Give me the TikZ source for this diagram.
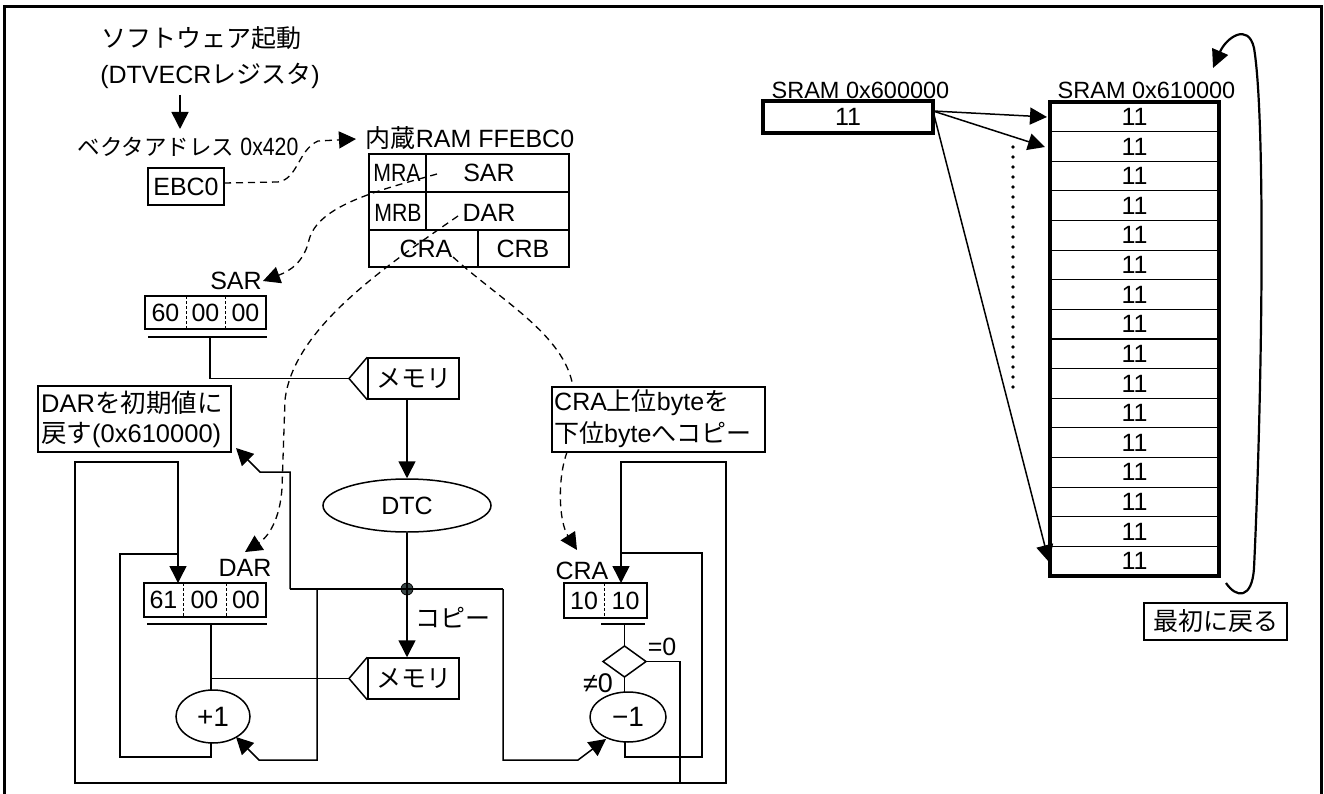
\documentclass[tikz,border=0pt]{standalone}
\usepackage{fontspec}
\setmainfont{Liberation Sans}
\newfontfamily\jp{Noto Sans CJK JP}
\newfontfamily\narrowf[FakeStretch=0.85]{Liberation Sans}
\usetikzlibrary{arrows.meta,shapes.geometric}
\definecolor{dotc}{HTML}{3A4848}
\tikzset{
  ln/.style={line width=1.5pt},
  arr/.style={ln,-{Triangle[length=17pt,width=17pt]}},
  dsh/.style={line width=1.3pt,dash pattern=on 7pt off 5pt},
  darr/.style={dsh,-{Triangle[length=17pt,width=17pt]}},
  t/.style={inner sep=0pt,font=\fontsize{25}{30}\selectfont},
  ts/.style={inner sep=0pt,font=\fontsize{23.5}{28}\selectfont},
  bx/.style={draw,ln,inner sep=0pt},
  cell/.style={dash pattern=on 3pt off 2pt,line width=1pt},
  thick box/.style={draw,line width=3.2pt,inner sep=0pt},
}
\begin{document}
\begin{tikzpicture}[x=1pt,y=-1pt]
\useasboundingbox (0,0) rectangle (1324,794);
% frame
\draw[line width=3pt] (4.5,800) -- (4.5,7) -- (1321.5,7) -- (1321.5,800);

% ---------- top-left ----------
\node[t] (s1) at (201,38) {\jp ソフトウェア起動};
\node[t] (s2) at (210,76) {(DTVECR{\jp レジスタ})};
\coordinate (a1) at (180,95);
\coordinate (a2) at (180,129);
\draw[arr] (a1) -- (a2);
\node[t,font=\fontsize{22.5}{27}\selectfont] (vec) at (188,147) {{\jp ベクタアドレス} {\fontsize{25}{30}\selectfont\narrowf 0x420}};
\node[bx,t,minimum width=76pt,minimum height=37pt] (ebc) at (186,186.5) {EBC0};

\node[t] (ramlbl) at (470,138) {{\jp 内蔵}RAM FFEBC0};
\node[draw,ln,minimum width=200pt,minimum height=113pt,inner sep=0pt] (ram) at (469,210.5) {};
\draw[ln] (ram.west |- 0,192) -- (ram.east |- 0,192);
\draw[ln] (ram.west |- 0,230) -- (ram.east |- 0,230);
\draw[ln] (426,154) -- (426,230);
\draw[ln] (478,230) -- (478,267);
\node[t] (mra) at (397,173) {\narrowf MRA};
\node[t] (sarc) at (489,173) {SAR};
\node[t] (mrb) at (398,213) {\narrowf MRB};
\node[t] (darc) at (489,213) {DAR};
\node[t] (crac) at (426,249) {CRA};
\node[t] (crbc) at (523,249) {CRB};

\coordinate (e1) at (224,183);
\coordinate (e2) at (356,139);
\draw[darr] (e1) -- (278,182) .. controls (298,179) and (298,150) .. (318,141) -- (e2);

% SAR register
\node[t] (sarlbl) at (236,281) {SAR};
\node[bx,minimum width=121pt,minimum height=33pt] (sarbox) at (205.5,312.5) {};
\draw[cell] (186,296) -- (186,329);
\draw[cell] (225,296) -- (225,329);
\node[t] (sar1) at (165.5,312.5) {60};
\node[t] (sar2) at (205.5,312.5) {00};
\node[t] (sar3) at (245.5,312.5) {00};
\draw[ln] (148,337) -- (267,337);
\coordinate (sarfrom) at (437,174);
\coordinate (sarto) at (263,281);
\draw[darr] (sarfrom) .. controls (380,190) and (318,205) .. (309,240) .. controls (304,262) and (290,271) .. (sarto);

% memory 1
\node[bx,t,minimum width=91pt,minimum height=41pt] (mem1) at (413.5,378.5) {\jp メモリ};
\coordinate (mem1tip) at (349,378.5);
\draw[ln] (mem1.north west) -- (mem1tip) -- (mem1.south west);
\draw[ln] (210,337) -- (210,378.5) -- (mem1tip);

% DTC
\node[draw,ln,ellipse,minimum width=168pt,minimum height=53pt,inner sep=0pt,t] (dtc) at (407,505.5) {DTC};
\draw[arr] (mem1.south -| dtc.north) -- (dtc.north);
\node[circle,fill=dotc,draw=black,line width=0.8pt,minimum size=12pt,inner sep=0pt] (dot) at (407,589) {};
\draw[ln] (dtc.south) -- (dot.center);
\draw[ln] (290,589) -- (503,589);

% memory 2
\node[bx,t,minimum width=91pt,minimum height=41pt] (mem2) at (413.5,678.5) {\jp メモリ};
\coordinate (mem2tip) at (349,678.5);
\draw[ln] (mem2.north west) -- (mem2tip) -- (mem2.south west);
\draw[arr] (dot.center) -- (mem2.north -| dot);
\node[t] (copy) at (453,618) {\jp コピー};

% DAR reset box
\node[bx,minimum width=193pt,minimum height=66pt] (darinit) at (134.5,419) {};
\node[t,font=\fontsize{25.5}{30}\selectfont,anchor=west] (di1) at (41,403) {DAR{\jp を初期値に}};
\node[t,font=\fontsize{25.5}{30}\selectfont,anchor=west] (di2) at (41,435) {{\jp 戻す}(0x610000)};
\draw[arr] (290,589) -- (290,472) -- (260,472) -- (236,448);

% DAR register
\node[t] (darlbl) at (245,568) {DAR};
\node[bx,minimum width=122pt,minimum height=34pt] (darbox) at (205,600) {};
\draw[cell] (183,583) -- (183,617);
\draw[cell] (226,583) -- (226,617);
\node[t] (dar1) at (163.5,600) {61};
\node[t] (dar2) at (204.5,600) {00};
\node[t] (dar3) at (246,600) {00};
\draw[ln] (147,624) -- (267,624);
\coordinate (darfrom) at (458,216);
\coordinate (darto) at (245,552);
\draw[darr] (darfrom) .. controls (380,270) and (293,330) .. (285,400) -- (282,488) .. controls (280,520) and (268,537) .. (darto);

% +1
\node[draw,ln,ellipse,minimum width=74pt,minimum height=53pt,inner sep=0pt,t,font=\fontsize{28}{32}\selectfont] (plus) at (213,716.5) {+1};
\draw[ln] (211,624) -- (211,690);
\draw[ln] (mem2tip) -- (211,678.5);
\draw[ln] (211,743) -- (211,757) -- (120,757) -- (120,554) -- (178,554);
\draw[arr] (317,589) -- (317,760) -- (259,760) -- (236,737);

% CRA copy box
\node[bx,fill=white,minimum width=213pt,minimum height=65pt] (crabox0) at (658.5,419.5) {};
\coordinate (crfrom) at (453,257);
\coordinate (crmid) at (573,387);
\draw[dsh] (crfrom) .. controls (500,300) and (565,335) .. (crmid);
\node[t,anchor=west] (cb1) at (554,403) {CRA{\jp 上位}byte{\jp を}};
\node[t,anchor=west] (cb2) at (554,435) {{\jp 下位}byte{\jp へコピー}};

% CRA register
\node[t] (cralbl) at (582,571) {CRA};
\node[bx,minimum width=83pt,minimum height=35pt] (crareg) at (605.5,600.5) {};
\draw[cell] (604,583) -- (604,618);
\node[t] (cra1) at (584,600.5) {10};
\node[t] (cra2) at (625.5,600.5) {10};
\draw[ln] (601,624) -- (645,624);
\coordinate (crmid2) at (567,452);
\coordinate (crto) at (577,550);
\draw[darr] (crmid2) .. controls (557,480) and (559,522) .. (crto);

% big loop (reset paths)
\draw[ln,{Triangle[length=17pt,width=17pt]}-{Triangle[length=17pt,width=17pt]}]
  (621,583) -- (621,462) -- (726,462) -- (726,783) -- (75,783) -- (75,462) -- (178,462) -- (178,583);

% decision and -1
\draw[ln] (603,661.5) -- (624.5,646) -- (646,661.5) -- (624.5,677) -- cycle;
\coordinate (diat) at (624.5,646);
\coordinate (diab) at (624.5,677);
\coordinate (diar) at (646,661.5);
\draw[ln] (624.5,624) -- (diat);
\node[t] (eq0) at (662,647) {=0};
\node[t,font=\fontsize{27}{30}\selectfont] (ne0) at (598,683) {≠0};
\node[draw,ln,ellipse,minimum width=76pt,minimum height=50pt,inner sep=0pt,t,font=\fontsize{28}{32}\selectfont] (minus) at (628,717) {−1};
\draw[ln] (diab) -- (624.5,692);
\draw[ln] (diar) -- (680,661.5) -- (680,783);
\draw[ln] (625,742) -- (625,757) -- (702,757) -- (702,553) -- (621,553);
\draw[arr] (503,589) -- (503,760) -- (578,760) -- (606,739);

% ---------- right side ----------
\node[ts] (sram1lbl) at (860.5,90) {SRAM 0x600000};
\node[thick box,t,minimum width=170pt,minimum height=32pt] (sram1) at (848,117) {11};
\node[ts] (sram2lbl) at (1146.5,90) {SRAM 0x610000};
\foreach \i in {1,...,15} \draw[line width=1.2pt] (1050,{102+\i*29.625}) -- (1219,{102+\i*29.625});
\draw[line width=3.2pt] (1050,102) rectangle (1219,576);
\foreach \i in {0,...,15} \node[t] (row\i) at (1134.5,{102+(\i+0.5)*29.625}) {11};
\coordinate (src) at (933,111);
\coordinate (tg1) at (1047,117);
\coordinate (tg2) at (1045,147);
\coordinate (tg3) at (1049,562);
\draw[arr] (src) -- (tg1);
\draw[arr] (src) -- (tg2);
\draw[arr] (src) -- (tg3);
\foreach \k in {0,...,24} \fill (1013,{147+\k*10}) circle (1.8pt);
\coordinate (lp1) at (1226,583);
\coordinate (lp2) at (1213,68);
\draw[line width=2.2pt,-{Triangle[length=18pt,width=17pt]}] (lp1) .. controls (1236,598) and (1252,600) .. (1254,568)
  .. controls (1262,400) and (1266,120) .. (1254,48) .. controls (1248,22) and (1226,38) .. (lp2);
\node[bx,t,minimum width=143pt,minimum height=37pt] (back) at (1215.5,621.5) {\jp 最初に戻る};
\end{tikzpicture}
\end{document}
